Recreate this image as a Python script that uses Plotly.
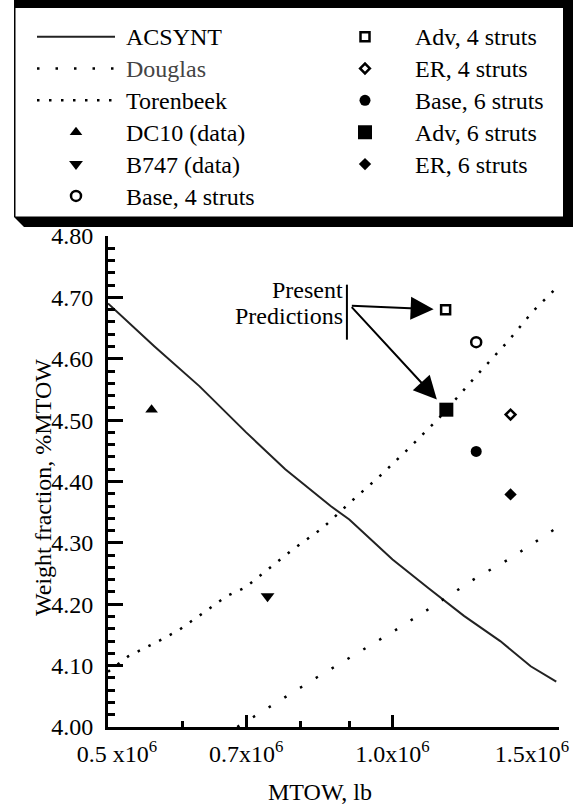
import math
import plotly.graph_objects as go

# ---------------- data ----------------
acsynt_mtow = [0.50e6, 0.56e6, 0.625e6, 0.70e6, 0.77e6, 0.86e6, 0.90e6, 1.00e6,
               1.09e6, 1.19e6, 1.30e6, 1.40e6, 1.49e6]
acsynt_wf = [4.690, 4.620, 4.555, 4.480, 4.420, 4.360, 4.338, 4.273,
             4.227, 4.181, 4.140, 4.099, 4.074]

douglas_mtow = [0.685e6, 0.76e6, 0.832e6, 0.917e6, 1.01e6, 1.107e6, 1.22e6, 1.336e6, 1.49e6]
douglas_wf = [4.000, 4.044, 4.081, 4.120, 4.159, 4.198, 4.241, 4.276, 4.324]

torenbeek_mtow = [0.50e6, 0.525e6, 0.564e6, 0.593e6, 0.636e6, 0.667e6, 0.698e6, 0.730e6,
                  0.784e6, 0.843e6, 0.905e6, 0.973e6, 1.042e6, 1.121e6, 1.221e6,
                  1.324e6, 1.407e6, 1.49e6]
torenbeek_wf = [4.090, 4.115, 4.139, 4.157, 4.190, 4.213, 4.227, 4.251,
                4.289, 4.324, 4.368, 4.411, 4.455, 4.504, 4.569,
                4.628, 4.677, 4.715]

dc10_mtow, dc10_wf = [0.556e6], [4.517]
b747_mtow, b747_wf = [0.7375e6], [4.213]
base4_mtow, base4_wf = [1.226e6], [4.627]
adv4_mtow, adv4_wf = [1.138e6], [4.680]
er4_mtow, er4_wf = [1.333e6], [4.509]
base6_mtow, base6_wf = [1.226e6], [4.449]
adv6_mtow, adv6_wf = [1.140e6], [4.517]
er6_mtow, er6_wf = [1.333e6], [4.379]

x_tickvals = [0.5e6, 0.7e6, 1.0e6, 1.5e6]
x_ticktext = ["\u00a0\u00a0\u00a00.5 x10<sup>6</sup>", "0.7x10<sup>6</sup>",
              "1.0x10<sup>6</sup>", "1.5x10<sup>6</sup>" + "\u00a0" * 9]
x_minor_vals = [0.6e6, 0.8e6, 0.9e6]
y_tickvals = [4.0, 4.1, 4.2, 4.3, 4.4, 4.5, 4.6, 4.7, 4.8]
y_ticktext = ["4.00", "4.10", "4.20", "4.30", "4.40", "4.50", "4.60", "4.70", "4.80"]

# annotation anchor (tail of the "Present Predictions" arrows)
arrow_tail_mtow, arrow_tail_wf = 0.9023e6, 4.6865
bar_mtow, bar_wf_top, bar_wf_bot = 0.8948e6, 4.7207, 4.6311

# ---------------- layout helpers ----------------
W, H = 573, 809
L, R, T, B = 108, 14, 236, 82
PW, PH = W - L - R, H - T - B
FONT = "Liberation Serif"


def px_x(p):
    return (p - L) / PW


def px_y(p):
    return (T + PH - p) / PH


def lname(s, color="black"):
    return "<span style='font-size:24px;color:%s'>\u00a0%s</span>" % (color, s)


fig = go.Figure()

fig.add_trace(go.Scatter(x=acsynt_mtow, y=acsynt_wf, mode="lines", name=lname("ACSYNT"),
                         line=dict(color="#222222", width=2), legend="legend"))
fig.add_trace(go.Scatter(x=douglas_mtow, y=douglas_wf, mode="lines", name=lname("Douglas", "#444444"),
                         line=dict(color="black", width=2.5, dash="2.5px,16px"), legend="legend"))
fig.add_trace(go.Scatter(x=torenbeek_mtow, y=torenbeek_wf, mode="lines", name=lname("Torenbeek"),
                         line=dict(color="black", width=2.5, dash="2.5px,9.5px"), legend="legend"))

mk_line = dict(color="black", width=2.5)
fig.add_trace(go.Scatter(x=dc10_mtow, y=dc10_wf, mode="markers", name=lname("DC10 (data)"),
                         marker=dict(symbol="triangle-up", size=11, color="black"), legend="legend"))
fig.add_trace(go.Scatter(x=b747_mtow, y=b747_wf, mode="markers", name=lname("B747 (data)"),
                         marker=dict(symbol="triangle-down", size=12, color="black"), legend="legend"))
fig.add_trace(go.Scatter(x=base4_mtow, y=base4_wf, mode="markers", name=lname("Base, 4 struts"),
                         marker=dict(symbol="circle-open", size=10, color="black", line=mk_line),
                         legend="legend"))
fig.add_trace(go.Scatter(x=adv4_mtow, y=adv4_wf, mode="markers", name=lname("Adv, 4 struts"),
                         marker=dict(symbol="square-open", size=9, color="black", line=mk_line),
                         legend="legend2"))
fig.add_trace(go.Scatter(x=er4_mtow, y=er4_wf, mode="markers", name=lname("ER, 4 struts"),
                         marker=dict(symbol="diamond-open", size=7.5, color="black", line=mk_line),
                         legend="legend2"))
fig.add_trace(go.Scatter(x=base6_mtow, y=base6_wf, mode="markers", name=lname("Base, 6 struts"),
                         marker=dict(symbol="circle", size=11, color="black"), legend="legend2"))
fig.add_trace(go.Scatter(x=adv6_mtow, y=adv6_wf, mode="markers", name=lname("Adv, 6 struts"),
                         marker=dict(symbol="square", size=14, color="black"), legend="legend2"))
fig.add_trace(go.Scatter(x=er6_mtow, y=er6_wf, mode="markers", name=lname("ER, 6 struts"),
                         marker=dict(symbol="diamond", size=9.5, color="black"), legend="legend2"))

legend_common = dict(xanchor="left", yanchor="top", bgcolor="rgba(0,0,0,0)", borderwidth=0,
                     itemwidth=78, font=dict(family=FONT, size=22.2, color="black"),
                     traceorder="normal", orientation="v")

fig.update_layout(
    width=W, height=H,
    margin=dict(l=L, r=R, t=T, b=B, autoexpand=False),
    paper_bgcolor="white", plot_bgcolor="white",
    font=dict(family=FONT, size=24, color="black"),
    showlegend=True,
    legend=dict(x=px_x(32), y=px_y(15.7), **legend_common),
    legend2=dict(x=px_x(321), y=px_y(15.7), **legend_common),
    xaxis=dict(type="log", range=[math.log10(0.5e6), math.log10(1.5e6)],
               tickmode="array", tickvals=x_tickvals, ticktext=x_ticktext,
               ticks="inside", ticklen=12, tickwidth=2.5, tickcolor="black",
               showline=True, linewidth=3, linecolor="black",
               showgrid=False, zeroline=False, ticklabelstandoff=3,
               ticklabeloverflow="allow",
               tickfont=dict(family=FONT, size=24, color="black"),
               minor=dict(tickmode="array", tickvals=x_minor_vals, ticks="inside",
                          ticklen=6, tickwidth=2.5, tickcolor="black", showgrid=False)),
    yaxis=dict(range=[4.0, 4.8], tickmode="array", tickvals=y_tickvals, ticktext=y_ticktext,
               ticks="inside", ticklen=15, tickwidth=2.5, tickcolor="black",
               showline=True, linewidth=3, linecolor="black",
               showgrid=False, zeroline=False, ticklabelstandoff=7,
               ticklabeloverflow="allow",
               tickfont=dict(family=FONT, size=24, color="black"),
               minor=dict(tickmode="linear", tick0=4.0, dtick=0.02, ticks="inside",
                          ticklen=7, tickwidth=2.5, tickcolor="black", showgrid=False)),
)

# legend frame with drop shadow
shadow_path = "M{},{} L{},{} L{},{} L{},{} L{},{} Z".format(
    px_x(14), px_y(0), px_x(573), px_y(0), px_x(573), px_y(227),
    px_x(24), px_y(227), px_x(14), px_y(217))
fig.add_shape(type="path", xref="paper", yref="paper", path=shadow_path,
              fillcolor="black", line=dict(width=0), layer="above")
fig.add_shape(type="rect", xref="paper", yref="paper",
              x0=px_x(15.5), x1=px_x(563), y0=px_y(216.5), y1=px_y(8),
              fillcolor="white", line=dict(width=0), layer="above")

# vertical bar of the "Present Predictions" label
fig.add_shape(type="line", xref="x", yref="y", x0=bar_mtow, x1=bar_mtow,
              y0=bar_wf_bot, y1=bar_wf_top, line=dict(color="black", width=2))

lx = math.log10
fig.add_annotation(x=lx(bar_mtow), y=4.7125, xref="x", yref="y", text="Present",
                   showarrow=False, xanchor="right", yanchor="middle", xshift=-2,
                   font=dict(family=FONT, size=24, color="black"))
fig.add_annotation(x=lx(bar_mtow), y=4.6702, xref="x", yref="y", text="Predictions",
                   showarrow=False, xanchor="right", yanchor="middle", xshift=-2,
                   font=dict(family=FONT, size=24, color="black"))
for tx, ty, so in [(adv4_mtow[0], adv4_wf[0], 12), (adv6_mtow[0], adv6_wf[0], 14)]:
    fig.add_annotation(x=lx(tx), y=ty, xref="x", yref="y",
                       ax=lx(arrow_tail_mtow), ay=arrow_tail_wf, axref="x", ayref="y",
                       text="", showarrow=True, arrowhead=2, arrowsize=2.3, arrowwidth=2,
                       arrowcolor="black", standoff=so)

# axis titles
fig.add_annotation(x=px_x(43), y=px_y(488), xref="paper", yref="paper",
                   text="Weight fraction, %MTOW", textangle=-90, showarrow=False,
                   xanchor="center", yanchor="middle",
                   font=dict(family=FONT, size=24, color="black"))
fig.add_annotation(x=px_x(320), y=px_y(792), xref="paper", yref="paper",
                   text="MTOW, lb", showarrow=False, xanchor="center", yanchor="middle",
                   font=dict(family=FONT, size=24, color="black"))

fig.write_html("out.html", config={"displayModeBar": False},
               post_script="document.body.style.margin='0px';")
